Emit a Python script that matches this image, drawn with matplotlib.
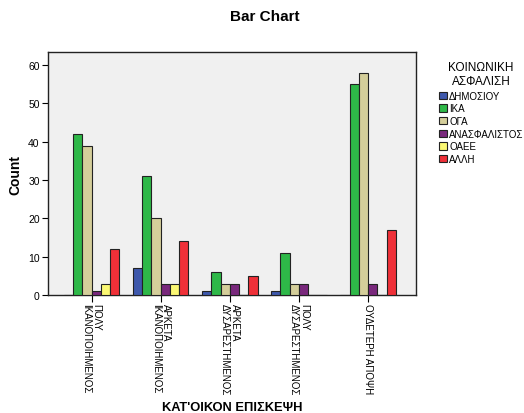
import matplotlib
matplotlib.use("Agg")
import matplotlib.pyplot as plt
import matplotlib.transforms as mtransforms
import numpy as np
from matplotlib.patches import Patch

plt.rcParams['font.family'] = ['Liberation Sans', 'DejaVu Sans']

categories = ["ΠΟΛΥ\nΙΚΑΝΟΠΟΙΗΜΕΝΟΣ", "ΑΡΚΕΤΑ\nΙΚΑΝΟΠΟΙΗΜΕΝΟΣ", "ΑΡΚΕΤΑ\nΔΥΣΑΡΕΣΤΗΜΕΝΟΣ",
              "ΠΟΛΥ\nΔΥΣΑΡΕΣΤΗΜΕΝΟΣ", "ΟΥΔΕΤΕΡΗ ΑΠΟΨΗ"]
series_names = ["ΔΗΜΟΣΙΟΥ", "ΙΚΑ", "ΟΓΑ", "ΑΝΑΣΦΑΛΙΣΤΟΣ", "ΟΑΕΕ", "ΑΛΛΗ"]
dimosiou = [0, 7, 1, 1, 0]
ika = [42, 31, 6, 11, 55]
oga = [39, 20, 3, 3, 58]
anasfalistos = [1, 3, 3, 3, 3]
oaee = [3, 3, 0, 0, 0]
alli = [12, 14, 5, 0, 17]
series = [dimosiou, ika, oga, anasfalistos, oaee, alli]
colors = ["#3E58AC", "#2EB848", "#D4CE9A", "#79287C", "#FBF873", "#EF3038"]
yticks = [0, 10, 20, 30, 40, 50, 60]

fig = plt.figure(figsize=(5.24, 4.14), dpi=100)
ax = fig.add_axes([0.0916, 0.285, 0.702, 0.587])
ax.set_facecolor("#F0F0F0")

x = np.arange(len(categories))
w = 0.134
for i, (vals, c) in enumerate(zip(series, colors)):
    offs = (i - 2.5) * w
    ax.bar(x + offs, vals, width=w, color=c, edgecolor="#222222", linewidth=0.8, zorder=3)

ax.set_xlim(-0.63, 4.69)
ax.set_ylim(0, 63.4)
ax.set_yticks(yticks)
ax.set_yticklabels([str(v) for v in yticks], fontsize=7.5)
ax.set_xticks(x)
ax.set_xticklabels(categories, rotation=-90, fontsize=7, va="top", ha="center",
                   linespacing=1.0, multialignment="left")
shift = mtransforms.ScaledTranslation(-2/100, 0, fig.dpi_scale_trans)
for lab in ax.get_xticklabels():
    lab.set_transform(lab.get_transform() + shift)
ax.tick_params(axis='y', length=4, width=0.8, pad=2)
ax.tick_params(axis='x', length=5, width=0.8, pad=1)
for s in ax.spines.values():
    s.set_linewidth(1.0)
    s.set_color("#222222")

ax.set_ylabel("Count", fontsize=10, fontweight="bold", labelpad=4)
fig.text(232/524, 1 - 408/414, "ΚΑΤ'ΟΙΚΟΝ ΕΠΙΣΚΕΨΗ", fontsize=9.3, fontweight="bold",
         ha="center", va="center")
fig.text(0.506, 1 - 17/414, "Bar Chart", fontsize=11, fontweight="bold",
         ha="center", va="center")

handles = [Patch(facecolor=c, edgecolor="#222222", linewidth=0.8) for c in colors]
leg = fig.legend(handles, series_names, loc="upper left",
                 bbox_to_anchor=(435/524, 1 - 58/414), frameon=False,
                 title="ΚΟΙΝΩΝΙΚΗ\nΑΣΦΑΛΙΣΗ", fontsize=7, title_fontsize=8.5,
                 handlelength=0.8, handleheight=0.8, handletextpad=0.25,
                 labelspacing=0.27, borderaxespad=0)
leg.get_title().set_multialignment("center")
leg._legend_box.sep = 3

fig.savefig("out.png", dpi=100)
